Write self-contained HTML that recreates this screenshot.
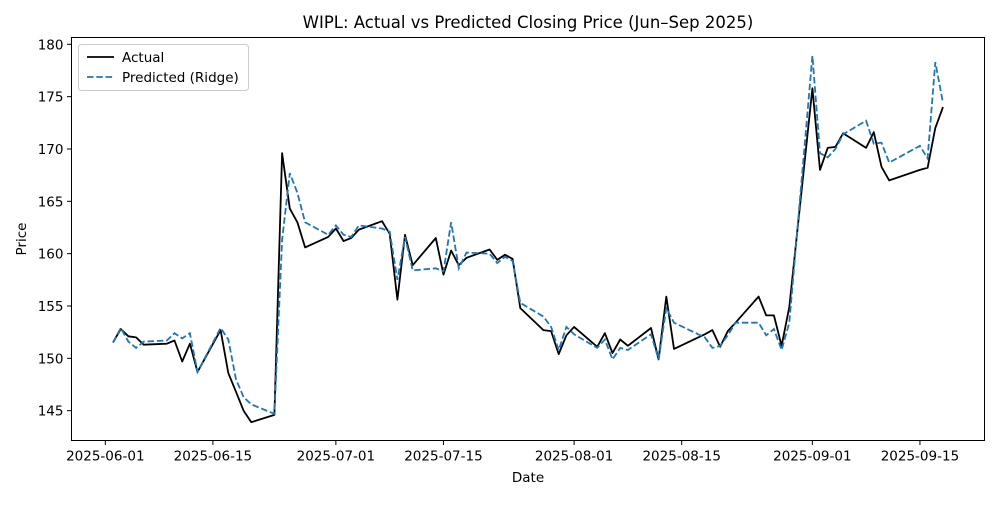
<!DOCTYPE html>
<html><head><meta charset="utf-8"><style>
body{margin:0;background:#fff}
svg text{font-family:"DejaVu Sans","Liberation Sans",sans-serif;fill:#000}
</style></head><body>
<svg id="chart" width="1000" height="500" viewBox="0 0 1000 500">
<rect width="1000" height="500" fill="#fff"/>
<text x="528" y="28" font-size="16.5" text-anchor="middle">WIPL: Actual vs Predicted Closing Price (Jun–Sep 2025)</text>
<g id="grid"></g>
<g id="lines"></g>
<rect x="71.5" y="37.5" width="913" height="403" fill="none" stroke="#000" stroke-width="1"/>
<g id="axes"></g>
<text x="528" y="482" font-size="13.5" text-anchor="middle">Date</text>
<text x="26" y="239" font-size="13.5" text-anchor="middle" transform="rotate(-90 26 239)">Price</text>
<g>
<rect x="78.5" y="44.5" width="170" height="46" rx="3" fill="#fff" fill-opacity="0.8" stroke="#ccc"/>
<line x1="87" y1="57" x2="114" y2="57" stroke="#000" stroke-width="1.8"/>
<text x="122" y="62" font-size="13.5">Actual</text>
<line x1="87" y1="77" x2="114" y2="77" stroke="#1f77b4" stroke-width="1.8" stroke-dasharray="6.5,2.8"/>
<text x="122" y="82" font-size="13.5">Predicted (Ridge)</text>
</g>
</svg>
<script>
const dates = ["2025-06-02","2025-06-03","2025-06-04","2025-06-05","2025-06-06","2025-06-09","2025-06-10","2025-06-11","2025-06-12","2025-06-13","2025-06-16","2025-06-17","2025-06-18","2025-06-19","2025-06-20","2025-06-23","2025-06-24","2025-06-25","2025-06-26","2025-06-27","2025-06-30",
"2025-07-01","2025-07-02","2025-07-03","2025-07-04","2025-07-07","2025-07-08","2025-07-09","2025-07-10","2025-07-11","2025-07-14","2025-07-15","2025-07-16","2025-07-17","2025-07-18","2025-07-21","2025-07-22","2025-07-23","2025-07-24","2025-07-25","2025-07-28","2025-07-29","2025-07-30","2025-07-31",
"2025-08-01","2025-08-04","2025-08-05","2025-08-06","2025-08-07","2025-08-08","2025-08-11","2025-08-12","2025-08-13","2025-08-14","2025-08-18","2025-08-19","2025-08-20","2025-08-21","2025-08-22","2025-08-25","2025-08-26","2025-08-27","2025-08-28","2025-08-29",
"2025-09-01","2025-09-02","2025-09-03","2025-09-04","2025-09-05","2025-09-08","2025-09-09","2025-09-10","2025-09-11","2025-09-15","2025-09-16","2025-09-17","2025-09-18"];
const actual = [151.5,152.8,152.1,152.0,151.3,151.4,151.7,149.7,151.4,148.7,152.7,148.6,146.8,145.0,143.9,144.6,169.6,164.3,163.0,160.6,161.6,
162.4,161.2,161.5,162.3,163.1,161.9,155.6,161.8,158.9,161.5,158.0,160.3,158.9,159.6,160.4,159.4,159.9,159.5,154.8,152.7,152.6,150.4,152.2,
153.0,151.1,152.4,150.5,151.8,151.2,152.9,149.9,155.9,150.9,152.3,152.7,151.1,152.6,153.4,155.9,154.1,154.1,151.2,154.9,
175.8,168.0,170.1,170.2,171.5,170.1,171.6,168.3,167.0,168.0,168.2,172.0,174.0];
const predicted = [151.5,152.9,151.6,151.0,151.6,151.7,152.4,151.9,152.4,148.7,152.9,151.8,148.0,146.3,145.6,144.7,161.3,167.7,165.8,163.0,161.8,
162.7,161.8,161.6,162.7,162.4,162.1,157.5,161.6,158.4,158.6,158.3,163.0,158.6,160.1,160.0,159.1,159.7,159.3,155.3,154.0,153.0,150.8,153.0,
152.3,151.0,151.8,149.9,151.0,150.8,152.3,149.9,154.8,153.4,152.0,151.0,151.2,152.2,153.4,153.4,152.2,152.8,150.8,153.4,
178.9,169.6,169.2,170.0,171.4,172.7,170.5,170.6,168.7,170.3,169.1,178.3,174.4];
const xTicks = ["2025-06-01","2025-06-15","2025-07-01","2025-07-15","2025-08-01","2025-08-15","2025-09-01","2025-09-15"];
const yTicks = [145,150,155,160,165,170,175,180];

const NS="http://www.w3.org/2000/svg";
const L=71.5,R=984.5,T=37.5,B=440.5;
const day=s=>Date.parse(s+"T00:00:00Z")/864e5;
const d0=day(dates[0]),d1=day(dates[dates.length-1]),dm=(d1-d0)*0.05;
const all=actual.concat(predicted);
const vmin=Math.min(...all),vmax=Math.max(...all),vm=(vmax-vmin)*0.05;
const xS=s=>L+(day(s)-(d0-dm))/((d1+dm)-(d0-dm))*(R-L);
const yS=v=>B-(v-(vmin-vm))/((vmax+vm)-(vmin-vm))*(B-T);
const axes=document.getElementById('axes'),lines=document.getElementById('lines');
function mk(tag,attrs,parent){const e=document.createElementNS(NS,tag);for(const k in attrs)e.setAttribute(k,attrs[k]);parent.appendChild(e);return e;}
xTicks.forEach(t=>{
  const x=xS(t);
  const tk=mk('line',{x1:x,x2:x,y1:B,y2:B+4.5,stroke:'#000'},axes);
  
  
  const tx=mk('text',{x:x,y:B+20,'font-size':13.5,'text-anchor':'middle'},axes);
  tx.textContent=t;
  
  
});
yTicks.forEach(v=>{
  const y=yS(v);
  const tk=mk('line',{x1:L-4.5,x2:L,y1:y,y2:y,stroke:'#000'},axes);
  
  
  const tx=mk('text',{x:L-8,y:y+5,'font-size':13.5,'text-anchor':'end'},axes);
  tx.textContent=v;
  
  
});
const pts=arr=>arr.map((v,i)=>xS(dates[i]).toFixed(1)+','+yS(v).toFixed(1)).join(' ');
const pa=mk('polyline',{points:pts(actual),fill:'none',stroke:'#000','stroke-width':1.8,'stroke-linejoin':'round'},lines);


const pp=mk('polyline',{points:pts(predicted),fill:'none',stroke:'#1f77b4','stroke-width':1.8,'stroke-dasharray':'6.5,2.8'},lines);


</script>
</body></html>
